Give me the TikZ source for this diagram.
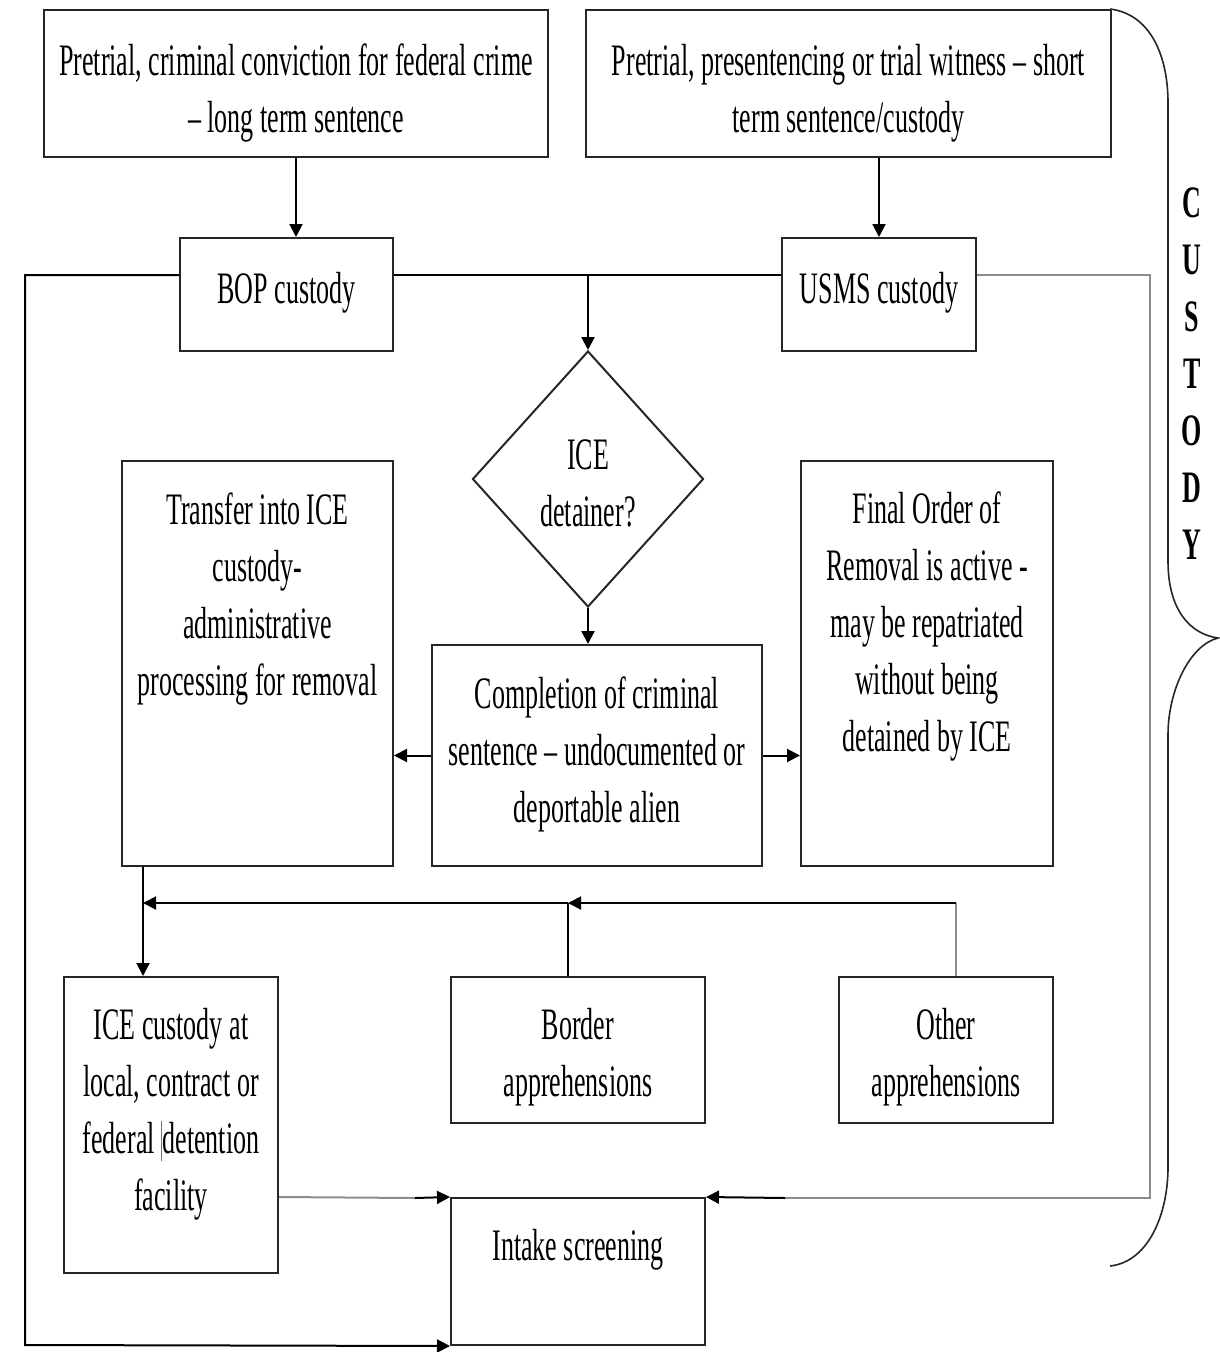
\documentclass[tikz,border=0pt]{standalone}
\usepackage{fontspec}
\setmainfont{Liberation Serif}[FakeStretch=0.578]
\usetikzlibrary{shapes.geometric,arrows.meta,calc}
\tikzset{
  box/.style={draw=black!85, line width=2pt, rectangle, inner sep=0pt},
  txt/.style={inner sep=0pt, align=center, font=\fontsize{45}{57}\selectfont},
  conn/.style={draw=black, line width=2pt},
  gconn/.style={draw=black!45, line width=2pt},
  arr/.style={conn, -{Triangle[length=13pt,width=13pt]}},
}
\begin{document}
\begin{tikzpicture}[x=1pt,y=-1pt]
\useasboundingbox (0,0) rectangle (1220,1352);
% boxes
\node[box, minimum width=504pt, minimum height=147pt] (a) at (296,83.5) {};
\node[txt] (atxt) at (296,93.5) {Pretrial, criminal conviction for federal crime\\– long term sentence};
\node[box, minimum width=525pt, minimum height=147pt] (b) at (848.5,83.5) {};
\node[txt] (btxt) at (848.5,93.5) {Pretrial, presentencing or trial witness – short\\term sentence/custody};
\node[box, minimum width=213pt, minimum height=113pt] (bop) at (286.5,294.5) {};
\node[txt] (boptxt) at (286.5,293) {BOP custody};
\node[box, minimum width=194pt, minimum height=113pt] (usms) at (879,294.5) {};
\node[txt] (usmstxt) at (879,293) {USMS custody};
\node[diamond, draw=black!85, line width=2pt, inner sep=0pt,
      minimum width=231pt, minimum height=256pt] (dia) at (588,479) {};
\node[txt] (diatxt) at (588,483.5) {ICE\\detainer?};
\node[box, minimum width=271pt, minimum height=405pt] (transfer) at (257.5,663.5) {};
\node[txt] (transfertxt) at (257.5,599) {Transfer into ICE\\custody-\\administrative\\processing for removal};
\node[box, minimum width=330pt, minimum height=221pt] (comp) at (597,755.5) {};
\node[txt] (comptxt) at (597,754.5) {Completion of criminal\\sentence – undocumented or\\deportable alien};
\node[box, minimum width=252pt, minimum height=405pt] (final) at (927,663.5) {};
\node[txt] (finaltxt) at (927,627) {Final Order of\\Removal is active -\\may be repatriated\\without being\\detained by ICE};
\node[box, minimum width=214pt, minimum height=296pt] (ice) at (171,1125) {};
\node[txt] (icetxt) at (171,1114) {ICE custody at\\local, contract or\\federal {\color{black!55}\rule[-8pt]{1pt}{40pt}}detention\\facility};
\node[box, minimum width=254pt, minimum height=146pt] (border) at (578,1050) {};
\node[txt] (bordertxt) at (578,1057) {Border\\apprehensions};
\node[box, minimum width=214pt, minimum height=146pt] (other) at (946,1050) {};
\node[txt] (othertxt) at (946,1057) {Other\\apprehensions};
\node[box, minimum width=254pt, minimum height=147pt] (intake) at (578,1271.5) {};
\node[txt] (intaketxt) at (578,1250) {Intake screening};
% custody brace
\node[txt, font=\fontsize{45}{57}\selectfont\bfseries] (custody) at (1192,374)
  {C\\U\\S\\T\\O\\D\\Y};
\draw[line width=1.6pt, black!85] (1110,9) .. controls (1150,14) and (1168,55) .. (1168,103)
  -- (1168,561) .. controls (1168,610) and (1190,634) .. (1218,638)
  .. controls (1190,645) and (1168,690) .. (1168,735)
  -- (1168,1167) .. controls (1168,1215) and (1148,1262) .. (1110,1266);
% coordinates
\coordinate (tl) at (25,275);
\coordinate (bl) at (25,1345);
\coordinate (rr) at (1150,275);
\coordinate (rb) at (1150,1198);
\coordinate (rm) at (785,1198);
\coordinate (lm) at (415,1198);
\coordinate (j1) at (143,903);
\coordinate (jB) at (568,903);
\coordinate (jO) at (956,903);
% connectors
\draw[arr] (a.south) -- (a.south |- bop.north);
\draw[arr] (b.south -| usms.north) -- (usms.north);
\draw[arr] (bop.west |- tl) -- (tl) -- (bl) -- (intake.south west);
\draw[conn] (bop.east |- tl) -- (usms.west |- tl);
\draw[arr] (dia.north |- tl) -- (dia.north);
\draw[gconn] (usms.east |- tl) -- (rr) -- (rb) -- (rm);
\draw[arr] (rm) -- (intake.north east);
\draw[arr] (dia.south) -- (dia.south |- comp.north);
\draw[arr] (comp.west) -- (comp.west -| transfer.east);
\draw[arr] (comp.east) -- (comp.east -| final.west);
\draw[arr] (j1 |- transfer.south) -- (j1 |- ice.north);
\draw[gconn] (jO |- other.north) -- (jO);
\draw[arr] (jO) -- (jB);
\draw[arr] (jB) -- (j1);
\draw[conn] (jB |- border.north) -- (jB);
\draw[gconn] (ice.east |- intake.north) -- (lm);
\draw[arr] (lm) -- (intake.north west);
\end{tikzpicture}
\end{document}
